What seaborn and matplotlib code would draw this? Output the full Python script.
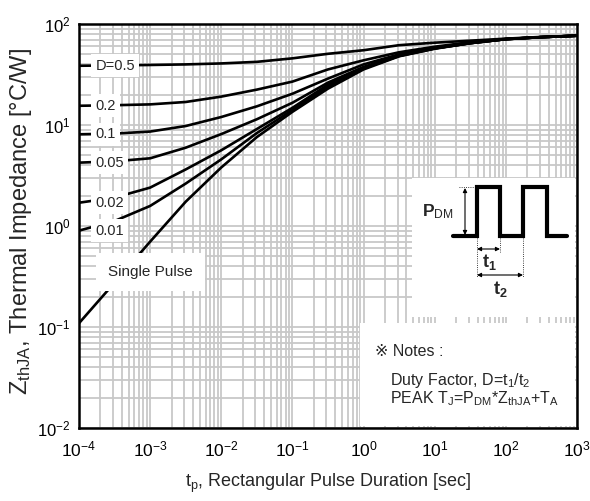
import numpy as np
import pandas as pd
import matplotlib
matplotlib.use("Agg")
import matplotlib.pyplot as plt
import seaborn as sns
from matplotlib.ticker import LogLocator, NullFormatter

# values (half-decade steps)
pulse_duration = [1e-4, 3.16e-4, 1e-3, 3.16e-3, 1e-2, 3.16e-2, 1e-1, 3.16e-1,
                  1, 3.16, 10, 31.6, 100, 316, 1000]
z_d050 = [38.6, 38.9, 39.3, 39.8, 40.7, 42.2, 45.7, 50.7, 55.0, 61.7, 65.3, 68.4, 71.6, 74.5, 76.6]
z_d020 = [15.5, 15.7, 16.0, 16.9, 19.1, 22.4, 26.9, 35.5, 43.7, 52.5, 59.6, 66.1, 71.1, 74.1, 76.6]
z_d010 = [8.09, 8.22, 8.61, 9.77, 12.0, 15.3, 20.4, 28.8, 39.8, 50.1, 58.2, 65.3, 70.8, 74.1, 76.6]
z_d005 = [4.24, 4.37, 4.68, 5.96, 8.13, 11.4, 16.6, 26.3, 37.6, 49.0, 57.5, 64.6, 70.8, 74.1, 76.6]
z_d002 = [1.70, 1.91, 2.40, 3.63, 5.62, 9.12, 14.8, 25.1, 36.7, 48.4, 57.5, 64.6, 70.8, 74.1, 76.6]
z_d001 = [0.90, 1.12, 1.58, 2.63, 4.57, 8.32, 14.1, 24.0, 36.3, 48.2, 57.3, 64.6, 70.8, 74.1, 76.6]
z_single = [0.109, 0.275, 0.70, 1.74, 3.80, 7.59, 13.5, 22.9, 35.5, 47.9, 56.9, 64.6, 70.8, 74.1, 76.6]

curve_names = ["D=0.5", "0.2", "0.1", "0.05", "0.02", "0.01", "Single Pulse"]
curve_values = [z_d050, z_d020, z_d010, z_d005, z_d002, z_d001, z_single]

rows = []
for name, vals in zip(curve_names, curve_values):
    for t, z in zip(pulse_duration, vals):
        rows.append({"t": t, "z": z, "curve": name})
df = pd.DataFrame(rows)

sns.set_theme(style="whitegrid")
plt.rcParams['font.family'] = ['Liberation Sans', 'DejaVu Sans']
plt.rcParams['mathtext.fontset'] = 'custom'
plt.rcParams['mathtext.rm'] = 'Liberation Sans'
plt.rcParams['mathtext.it'] = 'Liberation Sans'
plt.rcParams['mathtext.bf'] = 'Liberation Sans:bold'

fig = plt.figure(figsize=(5.9, 5.01), dpi=100)
ax = fig.add_axes([79 / 590, 73 / 501, 498 / 590, 404 / 501])

sns.lineplot(data=df, x="t", y="z", hue="curve", hue_order=curve_names,
             palette=["black"] * len(curve_names), estimator=None,
             linewidth=1.9, legend=False, ax=ax, zorder=3)

ax.set_xscale("log")
ax.set_yscale("log")
ax.set_xlim(1e-4, 1e3)
ax.set_ylim(1e-2, 1e2)
ax.xaxis.set_major_locator(LogLocator(base=10, numticks=12))
ax.yaxis.set_major_locator(LogLocator(base=10, numticks=12))
ax.xaxis.set_minor_locator(LogLocator(base=10, subs=np.arange(2, 10), numticks=12))
ax.yaxis.set_minor_locator(LogLocator(base=10, subs=np.arange(2, 10), numticks=12))
ax.xaxis.set_minor_formatter(NullFormatter())
ax.yaxis.set_minor_formatter(NullFormatter())

ax.grid(True, which="both", color="#c8c8c8", linewidth=1.3)
ax.set_axisbelow(True)
for s in ax.spines.values():
    s.set_color("black")
    s.set_linewidth(1.8)
ax.tick_params(which="both", direction="in", colors="black", labelsize=12.5)
ax.tick_params(axis="y", labelsize=12)
ax.tick_params(which="major", length=5, width=1)
ax.tick_params(which="minor", length=3, width=0.8)
ax.tick_params(axis="x", pad=8)
ax.tick_params(axis="y", pad=6)

ax.set_xlabel(r"t$_{\rm p}$, Rectangular Pulse Duration [sec]", fontsize=13, labelpad=9)
ax.set_ylabel(r"Z$_{\rm thJA}$, Thermal Impedance [°C/W]", fontsize=17)
ax.yaxis.set_label_coords(-0.09, 0.51)

# curve labels near the left axis
for name, vals in zip(curve_names[:-1], curve_values[:-1]):
    ax.text(1.7e-4, vals[0], name, fontsize=10.5, ha="left", va="center", zorder=4,
            bbox=dict(boxstyle="square,pad=0.3", fc="white", ec="none"))
ax.text(1e-3, 0.35, "Single Pulse", fontsize=11, ha="center", va="center", zorder=4,
        bbox=dict(boxstyle="square,pad=0.8", fc="white", ec="none"))

# overlay in pixel coordinates for the pulse sketch and notes
ov = fig.add_axes([0, 0, 1, 1])
ov.set_xlim(0, 590)
ov.set_ylim(501, 0)
ov.axis("off")
ov.add_patch(plt.Rectangle((412, 178), 163, 139, fc="white", ec="none"))
ov.add_patch(plt.Rectangle((360, 323), 215, 103, fc="white", ec="none"))

wave_x = [453, 477, 477, 500, 500, 523, 523, 547, 547, 567]
wave_y = [236, 236, 187, 187, 236, 236, 187, 187, 236, 236]
ov.plot(wave_x, wave_y, color="black", lw=3, solid_joinstyle="miter")

arrow = dict(arrowstyle="<|-|>", lw=0.8, color="black", shrinkA=0, shrinkB=0,
             mutation_scale=6)
ov.annotate("", xy=(465, 188), xytext=(465, 235), arrowprops=arrow)
ov.plot([459, 477], [187, 187], color="black", lw=0.6, ls=":")
ov.plot([477, 477], [238, 277], color="black", lw=0.6, ls=":")
ov.plot([500, 500], [238, 252], color="black", lw=0.6, ls=":")
ov.plot([523, 523], [238, 277], color="black", lw=0.6, ls=":")
ov.annotate("", xy=(477, 249), xytext=(500, 249), arrowprops=arrow)
ov.annotate("", xy=(477, 275), xytext=(523, 275), arrowprops=arrow)

ov.text(438, 212, r"$\mathbf{P}_{\rm DM}$", fontsize=12.5, ha="center", va="center")
ov.text(489, 262, r"$\mathbf{t}_{\mathbf{1}}$", fontsize=13, ha="center", va="center")
ov.text(500, 289, r"$\mathbf{t}_{\mathbf{2}}$", fontsize=13, ha="center", va="center")

ov.text(375, 352, "※ Notes :", fontsize=11.5, ha="left", va="center")
ov.text(390, 381, r"Duty Factor, D=t$_1$/t$_2$", fontsize=11.5, ha="left", va="center")
ov.text(390, 399, r"PEAK T$_{\rm J}$=P$_{\rm DM}$*Z$_{\rm thJA}$+T$_{\rm A}$",
        fontsize=11.5, ha="left", va="center")

fig.savefig("out.png", dpi=100)
